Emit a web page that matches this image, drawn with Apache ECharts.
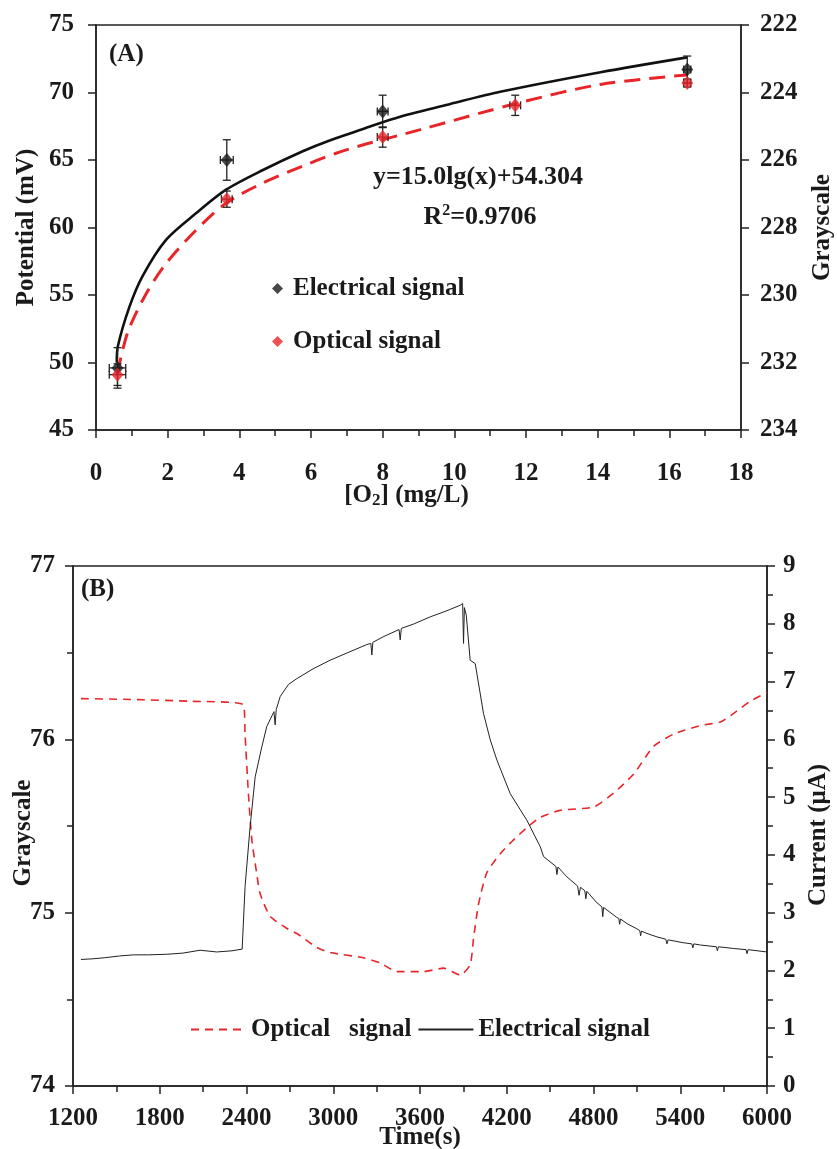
<!DOCTYPE html>
<html>
<head>
<meta charset="utf-8">
<script src="https://cdn.jsdelivr.net/npm/echarts@6/dist/echarts.min.js"></script>
<style>
html, body { margin: 0; padding: 0; background: #fff; }
#main { width: 837px; height: 1149px; }
</style>
</head>
<body>
<div id="main"></div>
<script>
// ---- (A) calibration: electrical (mV, left axis) ----
var o2Elec = [0.6, 3.65, 8.0, 16.5];
var potElec = [49.6, 65.0, 68.6, 71.7];
var potElecErr = [1.5, 1.5, 1.2, 1.0];
var o2ElecErr = [0.23, 0.18, 0.15, 0.1];

// ---- (A) calibration: optical (grayscale, right axis, inverted) ----
var o2Opt = [0.6, 3.65, 8.0, 11.7, 16.5];
var grayOpt = [232.36, 227.16, 225.32, 224.38, 223.72];
var grayOptErr = [0.32, 0.24, 0.3, 0.3, 0.12];
var o2OptErr = [0.23, 0.15, 0.15, 0.15, 0.1];

// fitted curves
var fitElecX = [0.58, 0.61, 0.93, 1.30, 1.96, 2.79, 3.63, 4.66, 5.77, 6.52, 7.56, 8.49, 9.89, 11.28, 14.08, 16.5];
var fitElecY = [50.0, 51.2, 54.1, 56.4, 59.1, 61.05, 62.8, 64.26, 65.65, 66.45, 67.4, 68.2, 69.15, 70.05, 71.5, 72.6];
var fitOptX = [0.6, 0.88, 1.40, 1.96, 2.79, 3.63, 4.66, 5.96, 6.7, 7.56, 8.49, 9.05, 11.75, 14.08, 16.5];
var fitOptY = [232.32, 231.12, 229.96, 229.06, 228.08, 227.28, 226.68, 226.10, 225.80, 225.52, 225.26, 225.10, 224.32, 223.76, 223.48];

// ---- (B) time course ----
var timeOpt = [1255, 1600, 2000, 2378, 2390, 2413, 2437, 2470, 2494, 2563, 2678, 2748, 2886, 2979, 3209, 3325, 3440, 3625, 3763, 3878, 3947, 3970, 4005, 4062, 4155, 4247, 4339, 4432, 4570, 4801, 4939, 5078, 5216, 5354, 5540, 5678, 5770, 5885, 6000];
var grayTime = [76.235, 76.23, 76.22, 76.20, 76.03, 75.69, 75.42, 75.23, 75.11, 74.98, 74.91, 74.88, 74.80, 74.77, 74.74, 74.71, 74.66, 74.66, 74.68, 74.64, 74.70, 74.85, 75.05, 75.23, 75.34, 75.42, 75.49, 75.55, 75.59, 75.61, 75.69, 75.80, 75.96, 76.03, 76.08, 76.10, 76.15, 76.22, 76.27];

var timeElec = [1255, 1330, 1420, 1520, 1617, 1720, 1848, 1960, 2079, 2194, 2300, 2370, 2390, 2425, 2460, 2506, 2540, 2590, 2598, 2606, 2633, 2690, 2748, 2860, 2979, 3100, 3232, 3260, 3267, 3274, 3350, 3455, 3463, 3471, 3560, 3671, 3780, 3878, 3895, 3901, 3907, 3920, 3947, 3982, 4039, 4086, 4132, 4224, 4339, 4432, 4455, 4540, 4547, 4554, 4616, 4690, 4700, 4710, 4740, 4747, 4754, 4820, 4858, 4864, 4870, 4960, 4975, 4981, 4987, 5032, 5100, 5120, 5126, 5132, 5170, 5240, 5300, 5308, 5316, 5420, 5480, 5487, 5494, 5539, 5650, 5657, 5664, 5770, 5855, 5862, 5869, 6000];
var currentElec = [2.19, 2.20, 2.22, 2.25, 2.27, 2.27, 2.28, 2.30, 2.35, 2.32, 2.34, 2.37, 3.45, 4.49, 5.35, 5.87, 6.22, 6.48, 6.25, 6.52, 6.74, 6.95, 7.05, 7.22, 7.37, 7.50, 7.64, 7.66, 7.46, 7.68, 7.78, 7.90, 7.72, 7.92, 8.00, 8.12, 8.22, 8.32, 8.35, 7.66, 8.28, 8.15, 7.37, 7.31, 6.45, 5.99, 5.64, 5.06, 4.60, 4.14, 3.97, 3.80, 3.66, 3.79, 3.62, 3.46, 3.30, 3.44, 3.38, 3.24, 3.37, 3.18, 3.10, 2.93, 3.09, 2.92, 2.90, 2.80, 2.89, 2.81, 2.72, 2.69, 2.60, 2.68, 2.64, 2.58, 2.54, 2.46, 2.53, 2.48, 2.46, 2.39, 2.46, 2.44, 2.41, 2.34, 2.41, 2.38, 2.36, 2.29, 2.36, 2.32];

function zip(a, b) {
  return a.map(function (v, i) { return [v, b[i]]; });
}
function errRows(x, y, ey, ex) {
  return x.map(function (v, i) { return [v, y[i], ey[i], ex[i]]; });
}

var FONT = "'Liberation Serif', 'Times New Roman', serif";
var INK = "#1a1a1a";
var RED = "#e8262a";
var FS = 25;
var txt = { fontFamily: FONT, fontWeight: "bold", fontSize: FS, color: INK };

// error bars (vertical + horizontal with caps)
function renderErr(params, api) {
  var x = api.value(0), y = api.value(1), ey = api.value(2), ex = api.value(3);
  var t = api.coord([x, y + ey]), b = api.coord([x, y - ey]);
  var l = api.coord([x - ex, y]), r = api.coord([x + ex, y]);
  var c = 4;
  var st = { stroke: "#222", lineWidth: 1.3 };
  return {
    type: "group",
    children: [
      { type: "line", shape: { x1: t[0], y1: t[1], x2: b[0], y2: b[1] }, style: st },
      { type: "line", shape: { x1: t[0] - c, y1: t[1], x2: t[0] + c, y2: t[1] }, style: st },
      { type: "line", shape: { x1: b[0] - c, y1: b[1], x2: b[0] + c, y2: b[1] }, style: st },
      { type: "line", shape: { x1: l[0], y1: l[1], x2: r[0], y2: r[1] }, style: st },
      { type: "line", shape: { x1: l[0], y1: l[1] - c, x2: l[0], y2: l[1] + c }, style: st },
      { type: "line", shape: { x1: r[0], y1: r[1] - c, x2: r[0], y2: r[1] + c }, style: st },
    ],
  };
}

function axisBase(extra, labelMargin, namePad) {
  var base = {
    type: "value",
    splitLine: { show: false },
    axisLine: { show: true, onZero: false, lineStyle: { color: "#222", width: 1.5 } },
    axisTick: { show: true, length: 8, lineStyle: { color: "#222", width: 1.5 } },
    axisLabel: {
      fontFamily: FONT, fontWeight: "bold", fontSize: FS, color: INK, margin: labelMargin,
      formatter: function (v) { return String(v); },
    },
    nameLocation: "middle",
    nameMoveOverlap: false,
    nameTextStyle: { fontFamily: FONT, fontWeight: "bold", fontSize: FS, color: INK, padding: namePad || 0 },
  };
  for (var k in extra) base[k] = extra[k];
  return base;
}
var minor = { show: true, splitNumber: 2, length: 6, lineStyle: { color: "#222", width: 1.5 } };

var myChart = echarts.init(document.getElementById("main"));
var option = {
  animation: false,
  backgroundColor: "#fff",
  grid: [
    { left: 96, top: 25, width: 645, height: 405, show: true, borderColor: "#222", borderWidth: 1.5, containLabel: false, outerBoundsMode: "none" },
    { left: 73, top: 566, width: 694, height: 520, show: true, borderColor: "#222", borderWidth: 1.5, containLabel: false, outerBoundsMode: "none" },
  ],
  xAxis: [
    axisBase({
      gridIndex: 0, min: 0, max: 18, interval: 2, minorTick: minor,
      name: "[O{sub|2}] (mg/L)", nameGap: 52,
      nameTextStyle: {
        fontFamily: FONT, fontWeight: "bold", fontSize: FS, color: INK, padding: [0, 24, 0, 0],
        rich: { sub: { fontFamily: FONT, fontWeight: "bold", fontSize: 17, color: INK, verticalAlign: "bottom", padding: [10, 0, 0, 0] } },
      },
    }, 31),
    axisBase({
      gridIndex: 1, min: 1200, max: 6000, interval: 600, minorTick: minor,
      name: "Time(s)", nameGap: 39,
    }, 20),
  ],
  yAxis: [
    axisBase({
      gridIndex: 0, position: "left", min: 45, max: 75, interval: 5,
      name: "Potential (mV)", nameGap: 57, nameRotate: 90,
    }, 22),
    axisBase({
      gridIndex: 0, position: "right", min: 222, max: 234, interval: 2, inverse: true,
      name: "Grayscale", nameGap: 69, nameRotate: 90,
    }, 19),
    axisBase({
      gridIndex: 1, position: "left", min: 74, max: 77, interval: 1, minorTick: minor,
      name: "Grayscale", nameGap: 37, nameRotate: 90,
    }, 18, [0, 14, 0, 0]),
    axisBase({
      gridIndex: 1, position: "right", min: 0, max: 9, interval: 1, minorTick: minor,
      name: "Current (\u03bcA)", nameGap: 39, nameRotate: 90,
    }, 16, [0, 18, 0, 0]),
  ],
  legend: [
    {
      data: ["Electrical signal", "Optical signal"],
      orient: "vertical", left: 272, top: 276, padding: 0,
      icon: "diamond", itemWidth: 11, itemHeight: 11, itemGap: 28,
      textStyle: { fontFamily: FONT, fontWeight: "bold", fontSize: FS, color: INK, padding: [0, 0, 0, 5] },
    },
    {
      data: ["Optical   signal", "Electrical signal "],
      orient: "horizontal", left: 190, top: 1017, padding: 0,
      itemWidth: 55, itemHeight: 14, itemGap: 6,
      itemStyle: { opacity: 0 },
      textStyle: txt,
    },
  ],
  graphic: [
    { type: "text", left: 109, top: 42, style: { text: "(A)", font: "bold 25px " + FONT, fill: INK } },
    { type: "text", left: 81, top: 577, style: { text: "(B)", font: "bold 25px " + FONT, fill: INK } },
    { type: "text", x: 478, y: 177, style: { text: "y=15.0lg(x)+54.304", font: "bold 26px " + FONT, fill: INK, align: "center", verticalAlign: "middle" } },
    {
      type: "text", x: 480, y: 217,
      style: {
        text: "R{sup|2}=0.9706", font: "bold 26px " + FONT, fill: INK, align: "center", verticalAlign: "middle",
        rich: { sup: { font: "bold 16px " + FONT, fill: INK, verticalAlign: "top", padding: [0, 0, 12, 0] } },
      },
    },
  ],
  series: [
    {
      type: "line", name: "fitElec", xAxisIndex: 0, yAxisIndex: 0, data: zip(fitElecX, fitElecY),
      smooth: 0.3, symbol: "none", silent: true, z: 2,
      lineStyle: { color: "#111", width: 2.6 },
    },
    {
      type: "line", name: "fitOpt", xAxisIndex: 0, yAxisIndex: 1, data: zip(fitOptX, fitOptY),
      smooth: 0.3, symbol: "none", silent: true, z: 2,
      lineStyle: { color: RED, width: 3, type: [16, 9] },
    },
    { type: "custom", name: "errElec", xAxisIndex: 0, yAxisIndex: 0, data: errRows(o2Elec, potElec, potElecErr, o2ElecErr), renderItem: renderErr, encode: { x: 0, y: 1 }, z: 3, silent: true },
    { type: "custom", name: "errOpt", xAxisIndex: 0, yAxisIndex: 1, data: errRows(o2Opt, grayOpt, grayOptErr, o2OptErr), renderItem: renderErr, encode: { x: 0, y: 1 }, z: 3, silent: true },
    {
      type: "scatter", name: "Electrical signal", xAxisIndex: 0, yAxisIndex: 0, data: zip(o2Elec, potElec),
      symbol: "diamond", symbolSize: [12, 14], itemStyle: { color: INK }, z: 4,
    },
    {
      type: "scatter", name: "Optical signal", xAxisIndex: 0, yAxisIndex: 1, data: zip(o2Opt, grayOpt),
      symbol: "diamond", symbolSize: [12, 14], itemStyle: { color: RED }, z: 4,
    },
    {
      type: "line", name: "Optical   signal", xAxisIndex: 1, yAxisIndex: 2, data: zip(timeOpt, grayTime),
      symbol: "none", smooth: 0.2, itemStyle: { color: RED },
      lineStyle: { color: RED, width: 1.6, type: [8, 6] },
    },
    {
      type: "line", name: "Electrical signal ", xAxisIndex: 1, yAxisIndex: 3, data: zip(timeElec, currentElec),
      symbol: "none", itemStyle: { color: "#222" },
      lineStyle: { color: "#222", width: 1 },
    },
  ],
};

option && myChart.setOption(option);
</script>
</body>
</html>
